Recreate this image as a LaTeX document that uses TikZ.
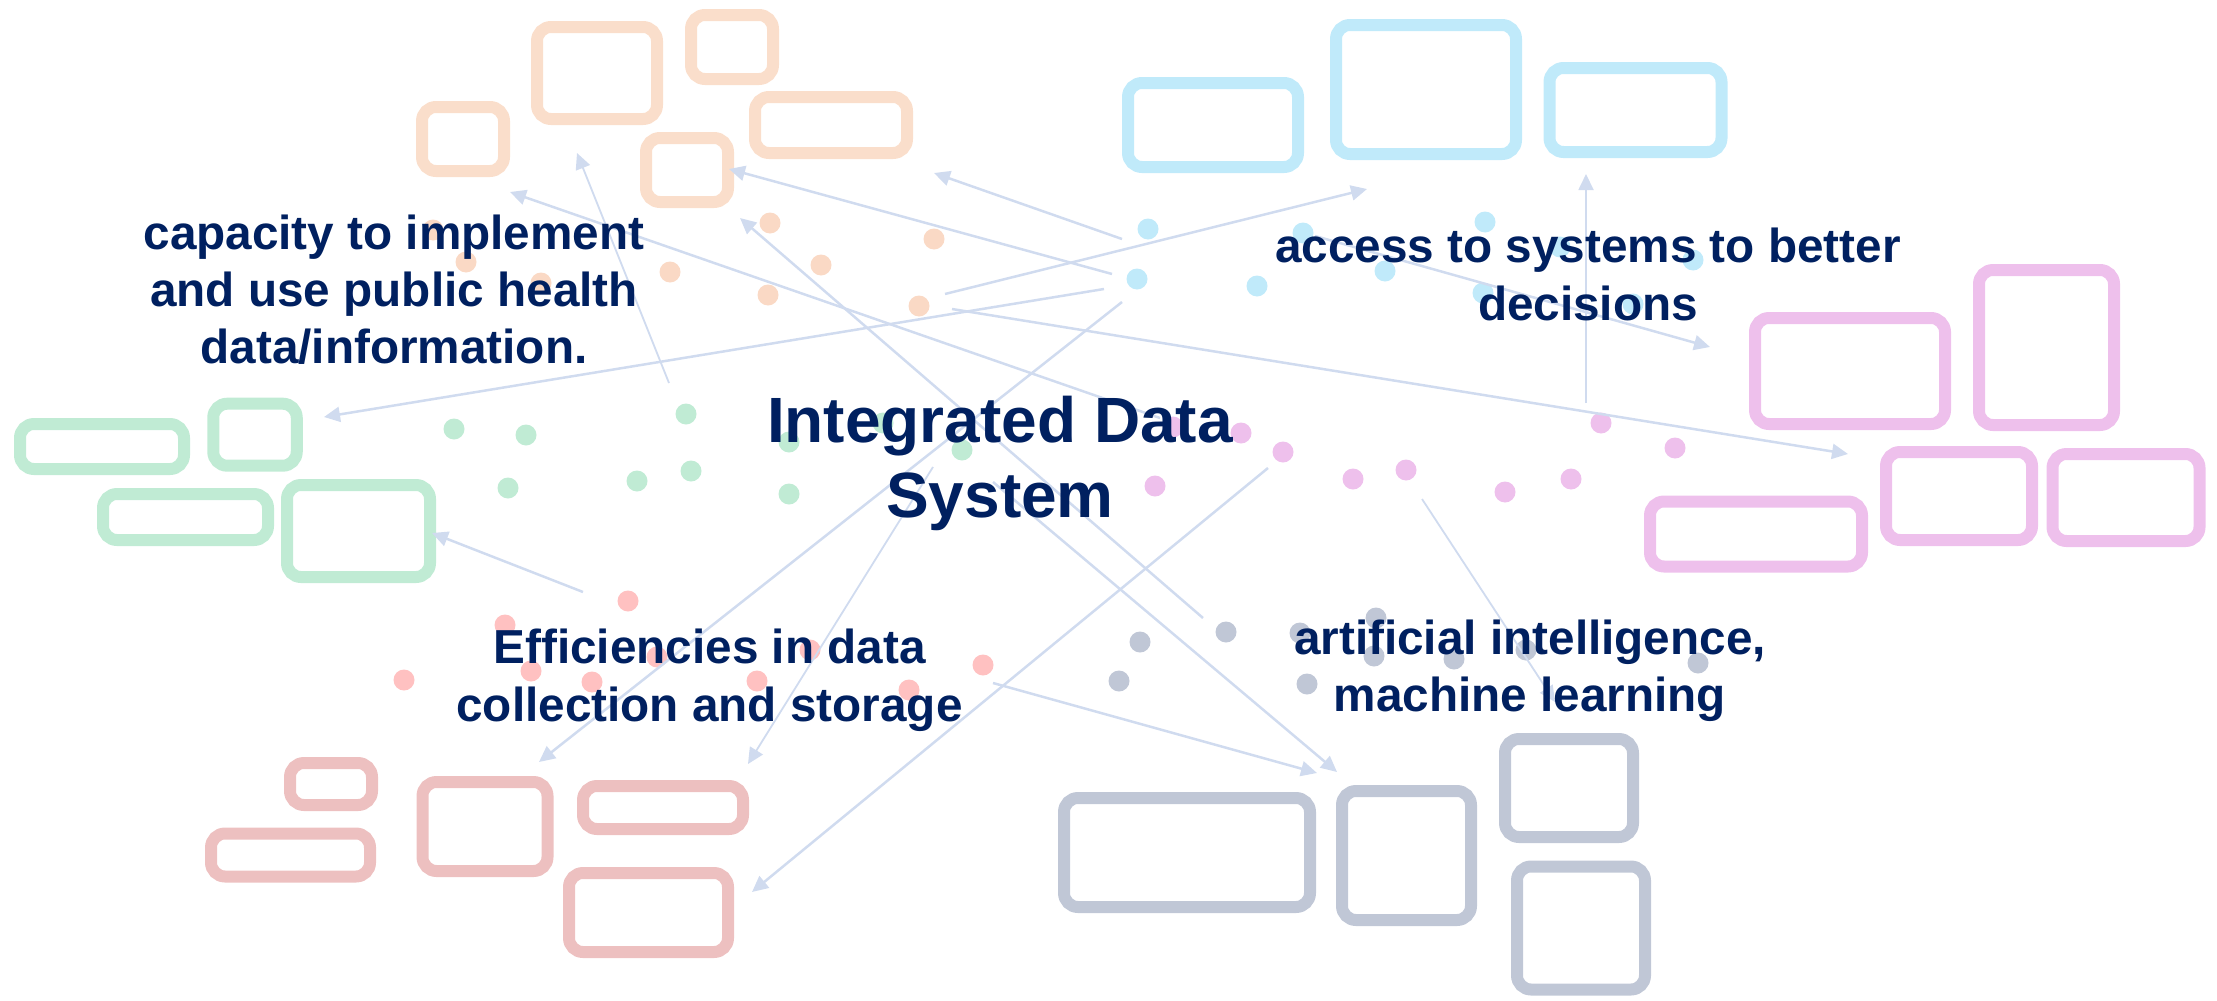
\documentclass[tikz,border=0pt]{standalone}
\usepackage{fontspec}
\setmainfont{Liberation Sans}
\usetikzlibrary{arrows.meta}
\definecolor{cOr}{HTML}{FADECB}
\definecolor{cOrD}{HTML}{FAD9C5}
\definecolor{cBl}{HTML}{C0EAFA}
\definecolor{cPk}{HTML}{EEC0EC}
\definecolor{cGr}{HTML}{C0EBD4}
\definecolor{cRd}{HTML}{EDC0C0}
\definecolor{cRdD}{HTML}{FFC1C1}
\definecolor{cGy}{HTML}{C0C7D6}
\definecolor{cLn}{HTML}{D0DBEF}
\definecolor{cTx}{HTML}{002060}
\begin{document}
\begin{tikzpicture}[x=1pt,y=-1pt,
  box/.style={draw, line width=12pt, rounded corners=14pt, inner sep=0pt, outer sep=0pt},
  obox/.style={box, draw=cOr}, bbox/.style={box, draw=cBl}, pbox/.style={box, draw=cPk},
  gbox/.style={box, draw=cGr}, rbox/.style={box, draw=cRd}, ybox/.style={box, draw=cGy},
  dot/.style={circle, inner sep=0pt, outer sep=0pt, minimum size=21pt},
  odot/.style={dot, fill=cOrD}, bdot/.style={dot, fill=cBl}, pdot/.style={dot, fill=cPk},
  gdot/.style={dot, fill=cGr}, rdot/.style={dot, fill=cRdD}, ydot/.style={dot, fill=cGy},
  conn/.style={draw=cLn, line width=2.5pt, -{Triangle[length=16pt,width=15pt]}},
  thinconn/.style={conn, line width=1.8pt},
  lbl/.style={text=cTx, font=\bfseries, inner sep=0pt}]
\useasboundingbox (0,0) rectangle (2217,1001);
% orange boxes
\node[obox, minimum width=120pt, minimum height=92pt] (bA) at (597,73) {};
\node[obox, minimum width=82pt, minimum height=64pt] (bB) at (732,47) {};
\node[obox, minimum width=82pt, minimum height=64pt] (bC) at (463,139) {};
\node[obox, minimum width=152pt, minimum height=56pt] (bD) at (831,125) {};
\node[obox, minimum width=82pt, minimum height=64pt] (bE) at (687,170) {};
% blue boxes
\node[bbox, minimum width=170pt, minimum height=84pt] (bF) at (1213,125) {};
\node[bbox, minimum width=180pt, minimum height=129pt] (bG) at (1426,89.5) {};
\node[bbox, minimum width=172pt, minimum height=84pt] (bH) at (1635.5,110) {};
% pink boxes
\node[pbox, minimum width=190pt, minimum height=106pt] (bI) at (1850,371) {};
\node[pbox, minimum width=135pt, minimum height=155pt] (bJ) at (2046.5,347.5) {};
\node[pbox, minimum width=146pt, minimum height=88pt] (bK) at (1959,496) {};
\node[pbox, minimum width=147pt, minimum height=87pt] (bL) at (2126,497.5) {};
\node[pbox, minimum width=212pt, minimum height=65pt] (bM) at (1756,534) {};
% green boxes
\node[gbox, minimum width=164pt, minimum height=45pt] (bN) at (102,446.5) {};
\node[gbox, minimum width=83.5pt, minimum height=62pt] (bO) at (255,434.7) {};
\node[gbox, minimum width=165pt, minimum height=46pt] (bP) at (185.5,517) {};
\node[gbox, minimum width=143pt, minimum height=92pt] (bQ) at (358.5,531) {};
% red boxes
\node[rbox, minimum width=82pt, minimum height=42pt] (bR) at (331,784) {};
\node[rbox, minimum width=159pt, minimum height=43pt] (bS) at (290.5,855) {};
\node[rbox, minimum width=125pt, minimum height=89pt] (bT) at (485,826.5) {};
\node[rbox, minimum width=160pt, minimum height=43pt] (bU) at (663,807.5) {};
\node[rbox, minimum width=159pt, minimum height=79pt] (bV) at (648.5,912.5) {};
% grey boxes
\node[ybox, minimum width=246pt, minimum height=109pt] (bW) at (1187,852.5) {};
\node[ybox, minimum width=129pt, minimum height=129pt] (bX) at (1406.5,855.5) {};
\node[ybox, minimum width=128pt, minimum height=98pt] (bY) at (1569,788) {};
\node[ybox, minimum width=128pt, minimum height=123pt] (bZ) at (1581,928) {};
% dots
\foreach \p [count=\i] in {(770,223),(934,239),(670,272),(821,265),(768,295),(919,306),(433,230),(466,262),(541,283)}
  \node[odot] (od\i) at \p {};
\foreach \p [count=\i] in {(1148,229),(1137,279),(1303,233),(1485,222),(1257,286),(1385,271),(1483,293),(1560,247),(1633,304),(1693,260)}
  \node[bdot] (bd\i) at \p {};
\foreach \p [count=\i] in {(1173,427),(1241,433),(1283,452),(1155,486),(1353,479),(1406,470),(1505,492),(1571,479),(1601,423),(1675,448)}
  \node[pdot] (pd\i) at \p {};
\foreach \p [count=\i] in {(454,429),(526,435),(686,414),(508,488),(637,481),(691,471),(789,442),(883,423),(962,450),(789,494)}
  \node[gdot] (gd\i) at \p {};
\foreach \p [count=\i] in {(628,601),(505,625),(404,680),(531,671),(592,682),(657,657),(757,681),(810,650),(909,690),(983,665)}
  \node[rdot] (rd\i) at \p {};
\foreach \p [count=\i] in {(1226,632),(1140,642),(1119,681),(1300,633),(1376,618),(1374,656),(1454,659),(1526,650),(1307,684),(1698,663)}
  \node[ydot] (yd\i) at \p {};
% connector ends
\coordinate (s1) at (1104,289);  \coordinate (t1) at (324,417);
\coordinate (s2) at (945,294);   \coordinate (t2) at (1367,189);
\coordinate (s3) at (1122,239);  \coordinate (t3) at (934,173);
\coordinate (s4) at (1112,274);  \coordinate (t4) at (729,169);
\coordinate (s5) at (669,383);   \coordinate (t5) at (577,153);
\coordinate (s6) at (1160,418);  \coordinate (t6) at (510,192);
\coordinate (s7) at (1203,618);  \coordinate (t7) at (740,218);
\coordinate (s8) at (952,309);   \coordinate (t8) at (1848,454);
\coordinate (s9) at (1586,403);  \coordinate (t9) at (1586,174);
\coordinate (s10) at (1315,236); \coordinate (t10) at (1710,347);
\coordinate (s11) at (1122,302); \coordinate (t11) at (539,762);
\coordinate (s12) at (933,467);  \coordinate (t12) at (748,764);
\coordinate (s13) at (1268,468); \coordinate (t13) at (752,892);
\coordinate (s14) at (583,592);  \coordinate (t14) at (432,533);
\coordinate (s15) at (993,683);  \coordinate (t15) at (1317,773);
\coordinate (s16) at (993,482);  \coordinate (t16) at (1337,772);
\coordinate (s17) at (1422,499); \coordinate (t17) at (1555,702);
\foreach \i in {1,2,3,4,6,7,8,10,11,13,14,15,16}
  \draw[conn] (s\i) -- (t\i);
\foreach \i in {5,9,12,17}
  \draw[thinconn] (s\i) -- (t\i);
% texts
\node[lbl, anchor=base] (title) at (1000,442) {\fontsize{64}{75}\selectfont\begin{tabular}[t]{@{}c@{}}Integrated Data\\System\end{tabular}};
\node[lbl, anchor=base] (capacity) at (394,249) {\fontsize{47.7}{57}\selectfont\begin{tabular}[t]{@{}c@{}}capacity to implement\\and use public health\\data/information.\end{tabular}};
\node[lbl, anchor=base] (access) at (1588,262) {\fontsize{47.7}{58}\selectfont\begin{tabular}[t]{@{}c@{}}access to systems to better\\decisions\end{tabular}};
\node[lbl, anchor=base] (eff) at (709.5,663) {\fontsize{47.7}{58}\selectfont\begin{tabular}[t]{@{}c@{}}Efficiencies in data\\collection and storage\end{tabular}};
\node[lbl, anchor=base] (ai) at (1530,654) {\fontsize{47.7}{57}\selectfont\begin{tabular}[t]{@{}c@{}}artificial intelligence,\\machine learning\end{tabular}};
\end{tikzpicture}
\end{document}
